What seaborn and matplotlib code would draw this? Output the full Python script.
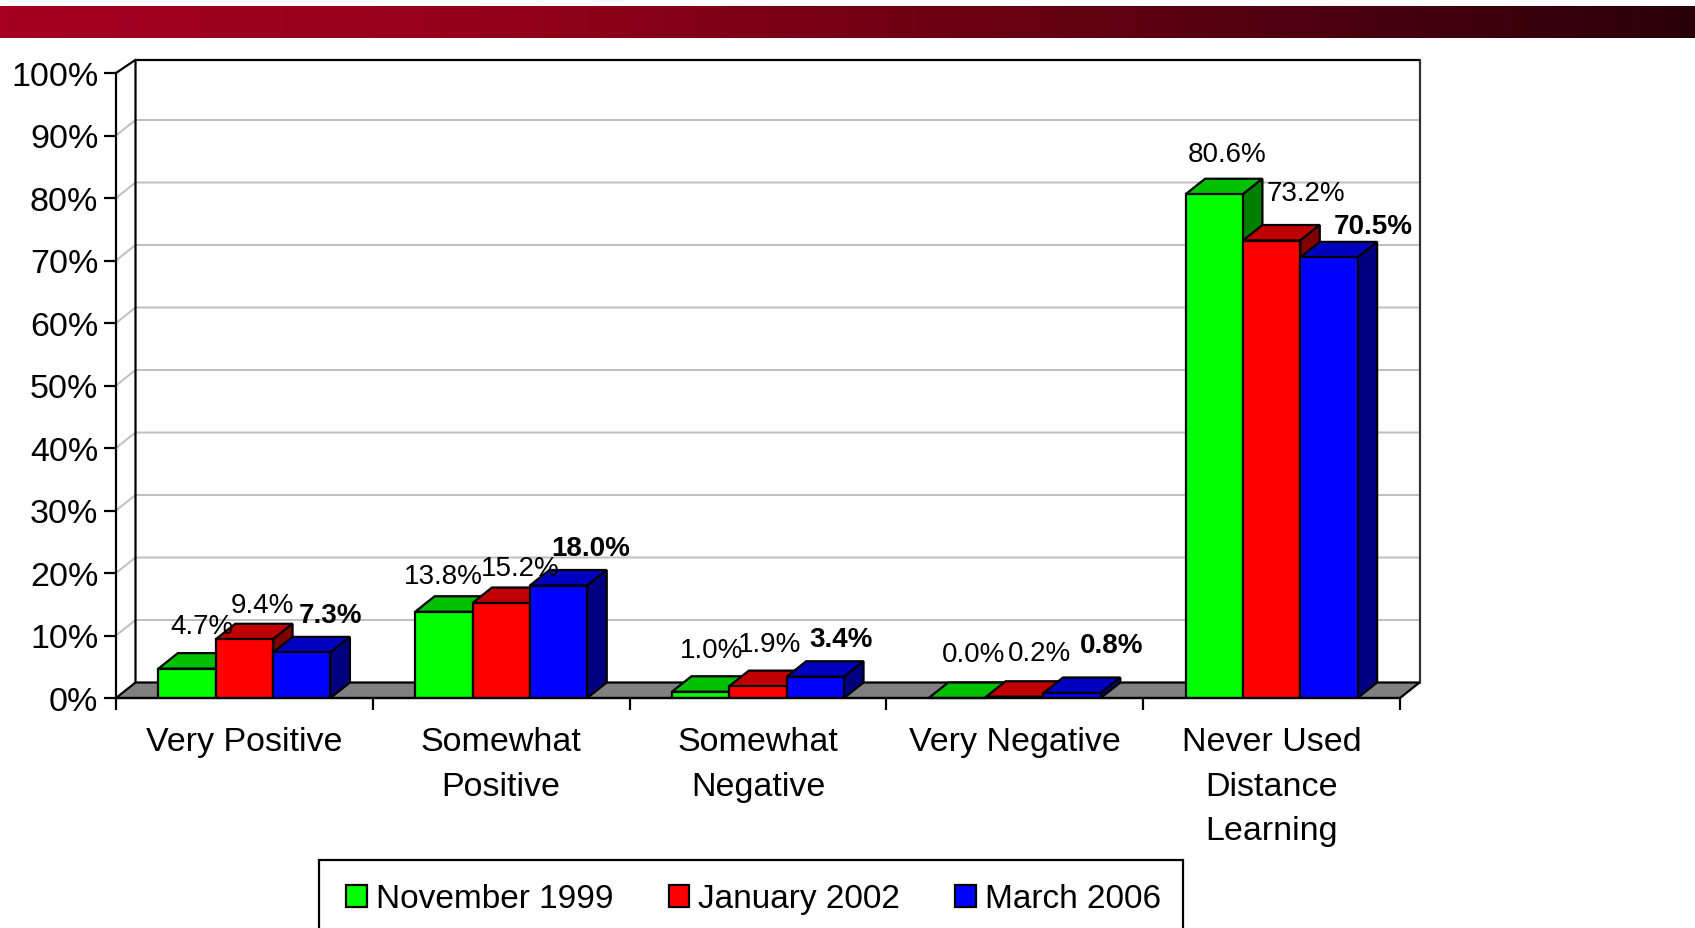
import numpy as np
import pandas as pd
import matplotlib
matplotlib.use("Agg")
import matplotlib.pyplot as plt
from matplotlib.colors import LinearSegmentedColormap
from matplotlib.patches import Polygon, Rectangle
from matplotlib.ticker import PercentFormatter
from matplotlib.transforms import Affine2D
import seaborn as sns

categories = ["Very Positive", "Somewhat\nPositive", "Somewhat\nNegative", "Very Negative", "Never Used\nDistance\nLearning"]
series_names = ["November 1999", "January 2002", "March 2006"]
nov_1999 = [4.7, 13.8, 1.0, 0.0, 80.6]
jan_2002 = [9.4, 15.2, 1.9, 0.2, 73.2]
mar_2006 = [7.3, 18.0, 3.4, 0.8, 70.5]
series_values = [nov_1999, jan_2002, mar_2006]
front_colors = ["#00FF00", "#FF0000", "#0000FF"]
top_colors = ["#00C000", "#C00000", "#0000C0"]
side_colors = ["#008000", "#800000", "#000080"]

# hand-placed label offsets from each bar's top centre (pixels, right / up)
label_dx = [[15, -1, 10.5, 16.5, 12.5], [18, 19, 11.5, 25, 34], [29, 32, 26, 39, 44]]
label_dy = [[43, 36, 42, 44, 40], [34, 34.5, 42, 44, 47], [37.5, 37.5, 38, 47.5, 31.5]]

W, H = 1695, 929
L, R, T, B = 116, 1400, 74, 699   # front plane of the plot in pixels
DX_PX, DY_PX = 19.5, 15.5         # 3-D depth in pixels
LW = 1.6
GRID_LW = 1.44

sns.set_style("white")
plt.rcParams["font.family"] = ["Liberation Sans", "DejaVu Sans"]
plt.rcParams["text.color"] = "black"

fig = plt.figure(figsize=(W / 100, H / 100), dpi=100, facecolor="white")

# header band
hdr = fig.add_axes([0, 1 - 38.5 / H, 1, 32 / H])
cmap = LinearSegmentedColormap.from_list(
    "band", [(0, "#A50021"), (0.3, "#930019"), (0.76, "#50000F"), (1, "#2A0008")])
hdr.imshow(np.linspace(0, 1, 512)[None, :], aspect="auto", cmap=cmap)
hdr.axis("off")

ax = fig.add_axes([L / W, 1 - B / H, (R - L) / W, (B - T) / H])
df = pd.DataFrame({
    "category": np.repeat(categories, len(series_names)),
    "series": series_names * len(categories),
    "value": np.array(series_values).T.ravel(),
})
sns.barplot(data=df, x="category", y="value", hue="series", order=categories,
            hue_order=series_names, palette=front_colors, saturation=1,
            width=0.67, errorbar=None, edgecolor="black", linewidth=LW, ax=ax)
ax.set_xlim(-0.5, len(categories) - 0.5)
ax.set_ylim(0, 100)
dx = DX_PX / (R - L) * len(categories)
dy = DY_PX / (B - T) * 100
x0, x1 = ax.get_xlim()

# walls, gridlines and floor
for v in np.arange(10, 100, 10):
    ax.plot([x0, x0 + dx, x1 + dx], [v, v + dy, v + dy], color="#C0C0C0", lw=GRID_LW, clip_on=False, zorder=1)
ax.plot([x0, x0 + dx, x0 + dx], [100, 100 + dy * 0.85, dy], color="black", lw=LW, clip_on=False, zorder=1.2)
ax.plot([x0 + dx, x1 + dx], [100 + dy * 0.85] * 2, color="black", lw=LW, clip_on=False, zorder=1.2)
ax.plot([x1 + dx, x1 + dx], [100 + dy * 0.85, dy], color="#333333", lw=LW, clip_on=False, zorder=1.2)
ax.add_patch(Polygon([(x0, 0), (x1, 0), (x1 + dx, dy), (x0 + dx, dy)], closed=True, facecolor="#808080",
                     edgecolor="black", lw=LW, clip_on=False, zorder=1.5))

# bar depth faces, ordered so that later bars cover earlier ones
for j, cont in enumerate(ax.containers):
    for i, bar in enumerate(cont):
        xa, w, h = bar.get_x(), bar.get_width(), bar.get_height()
        z = 3 + j * 0.1 + i
        ax.add_patch(Polygon([(xa, h), (xa + dx, h + dy), (xa + w + dx, h + dy), (xa + w, h)], closed=True,
                             facecolor=top_colors[j], edgecolor="black", lw=LW, clip_on=False, zorder=z))
        ax.add_patch(Polygon([(xa + w, 0), (xa + w + dx, dy), (xa + w + dx, h + dy), (xa + w, h)], closed=True,
                             facecolor=side_colors[j], edgecolor="black", lw=LW, clip_on=False, zorder=z))
        bar.set_zorder(z + 0.05)
        ax.annotate(f"{h:.1f}%", (xa + w / 2, h), xytext=(label_dx[j][i], label_dy[j][i]),
                    textcoords="offset pixels", ha="center", va="center", fontsize=20,
                    fontweight="bold" if j == 2 else "normal", color="black",
                    annotation_clip=False, zorder=20)

# axes furniture
sns.despine(ax=ax, top=True, right=True)
for s in ("left", "bottom"):
    ax.spines[s].set_linewidth(LW)
    ax.spines[s].set_color("black")
    ax.spines[s].set_zorder(12)
ax.patch.set_alpha(0)
ax.set_xlabel("")
ax.set_ylabel("")
ax.set_yticks(np.arange(0, 101, 10))
ax.yaxis.set_major_formatter(PercentFormatter(decimals=0))
ax.set_xticks(np.arange(len(categories) + 1) - 0.5, labels=[""] * (len(categories) + 1))
ax.set_xticks(np.arange(len(categories)), labels=categories, minor=True)
ax.tick_params(axis="y", which="major", left=True, length=8.4, width=LW, color="black", pad=4.3, labelsize=24.5, labelcolor="black")
ax.tick_params(axis="x", which="major", bottom=True, length=8.4, width=LW, color="black")
ax.tick_params(axis="x", which="minor", bottom=False, length=0, pad=20, labelsize=24.5, labelcolor="black")
for t in ax.get_xticklabels(minor=True):
    t.set_linespacing(1.575)
    t.set_multialignment("center")

# legend
sns.move_legend(ax, loc="center left", bbox_to_anchor=(346 / W, 1 - 900 / H), bbox_transform=fig.transFigure,
                ncol=3, title=None, frameon=False, fontsize=24, borderpad=0, borderaxespad=0,
                handlelength=0.62, handleheight=0.64, handletextpad=0.27, columnspacing=1.66,
                labelcolor="black")
pix = Affine2D().scale(1 / W, 1 / H) + fig.transFigure
fig.add_artist(Rectangle((319, H - 932), 863.5, 71.5, transform=pix, facecolor="white", edgecolor="black", lw=LW, zorder=-1))

fig.savefig("out.png", dpi=100, facecolor="white")
